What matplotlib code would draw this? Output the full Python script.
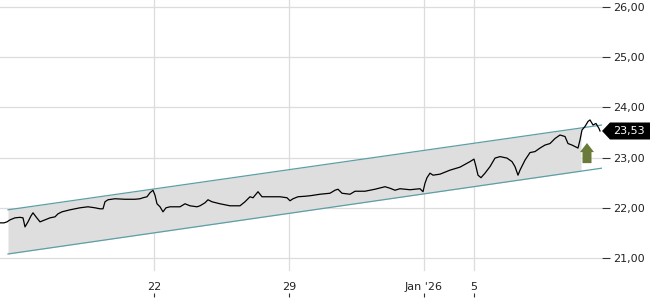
import matplotlib
matplotlib.use("Agg")
import matplotlib.pyplot as plt
from matplotlib.patches import Polygon
from matplotlib.transforms import IdentityTransform
import numpy as np

# time index (chart sample position) and price
t = [0, 4, 7, 10, 15, 20, 23, 25, 28, 31, 33, 36, 40, 45, 50, 55, 58, 62, 70, 75,
     80, 88, 95, 100, 103, 105, 108, 115, 125, 135, 140, 143, 147, 150, 153, 155,
     157, 160, 163, 166, 170, 180, 185, 190, 197, 200, 205, 208, 212, 220, 230,
     240, 245, 250, 253, 258, 262, 270, 280, 287, 290, 293, 298, 305, 310, 320,
     330, 335, 338, 342, 350, 355, 365, 375, 385, 390, 395, 400, 410, 420, 423,
     425, 427, 430, 433, 440, 450, 460, 470, 474, 476, 478, 481, 485, 490, 495,
     500, 507, 512, 515, 518, 520, 525, 530, 535, 540, 545, 550, 555, 560, 565,
     568, 572, 575, 578, 580, 582, 585, 588, 590, 593, 596, 599, 600]
price = [21.70, 21.70, 21.72, 21.76, 21.80, 21.81, 21.80, 21.62, 21.72, 21.84,
         21.90, 21.82, 21.72, 21.76, 21.80, 21.82, 21.88, 21.92, 21.96, 21.98,
         22.00, 22.02, 22.00, 21.98, 21.98, 22.12, 22.16, 22.18, 22.17, 22.17,
         22.18, 22.20, 22.22, 22.30, 22.35, 22.25, 22.08, 22.02, 21.92, 22.00,
         22.02, 22.02, 22.08, 22.04, 22.02, 22.04, 22.10, 22.16, 22.12, 22.08,
         22.04, 22.04, 22.12, 22.22, 22.20, 22.32, 22.22, 22.22, 22.22, 22.20,
         22.14, 22.18, 22.22, 22.23, 22.24, 22.27, 22.29, 22.35, 22.37, 22.29,
         22.27, 22.33, 22.33, 22.37, 22.42, 22.39, 22.35, 22.38, 22.36, 22.38,
         22.32, 22.49, 22.60, 22.69, 22.65, 22.67, 22.75, 22.81, 22.92, 22.97,
         22.82, 22.65, 22.60, 22.69, 22.82, 22.99, 23.02, 22.99, 22.92, 22.82,
         22.65, 22.75, 22.95, 23.10, 23.12, 23.19, 23.25, 23.28, 23.38, 23.45,
         23.42, 23.28, 23.25, 23.22, 23.19, 23.35, 23.55, 23.62, 23.72, 23.75,
         23.65, 23.68, 23.58, 23.53]

# trend channel (start/end)
chan_t = [8, 602]
chan_upper = [21.96, 23.65]
chan_lower = [21.08, 22.79]
fill_end_t = 581

# buy signal
signal_t = 587
signal_top, signal_neck, signal_bottom = 23.29, 23.11, 22.89

yticks = [21, 22, 23, 24, 25, 26]
ytick_labels = ["21,00", "22,00", "23,00", "24,00", "25,00", "26,00"]
xticks = [154, 289, 424, 474]
xtick_labels = ["22", "29", "Jan '26", "5"]
last_label = "23,53"

W, H = 650, 300
fig = plt.figure(figsize=(W / 100, H / 100), dpi=100)
ax_left, ax_right = 0, 602
ax_top, ax_bottom = 0, 297
ax = fig.add_axes([ax_left / W, (H - ax_bottom) / H, (ax_right - ax_left) / W,
                   (ax_bottom - ax_top) / H])
ppu = 50.2
y26 = 7
ax.set_ylim(26 - (ax_bottom - y26) / ppu, 26 + y26 / ppu)
ax.set_xlim(0, 602)
for s in ax.spines.values():
    s.set_visible(False)

grid_c = "#dcdcdc"
for v in yticks:
    ax.axhline(v, color=grid_c, lw=0.9, zorder=0)
ymin_frac = (ax_bottom - 270) / (ax_bottom - ax_top)
for v in xticks:
    ax.axvline(v, ymin=ymin_frac, color=grid_c, lw=0.9, zorder=0)

# channel fill and lines
up = np.interp([chan_t[0], fill_end_t], chan_t, chan_upper)
lo = np.interp([chan_t[0], fill_end_t], chan_t, chan_lower)
ax.fill_between([chan_t[0], fill_end_t], lo, up, color="#dedede", lw=0, zorder=1)
ax.plot(chan_t, chan_upper, color="#5c9fa6", lw=0.9, zorder=2)
ax.plot(chan_t, chan_lower, color="#5c9fa6", lw=0.9, zorder=2)

ax.plot(t, price, color="black", lw=0.9, zorder=3)

# buy arrow
hw, sw = 7, 4.5
arrow = Polygon([(signal_t, signal_top), (signal_t + hw, signal_neck),
                 (signal_t + sw, signal_neck), (signal_t + sw, signal_bottom),
                 (signal_t - sw, signal_bottom), (signal_t - sw, signal_neck),
                 (signal_t - hw, signal_neck)], closed=True,
                facecolor="#6a7a3b", edgecolor="none", zorder=4)
ax.add_patch(arrow)

# y ticks on right
ax.yaxis.tick_right()
ax.set_yticks(yticks)
ax.set_yticklabels(ytick_labels)
ax.tick_params(axis="y", length=5.5, width=0.8, color="#333333", pad=2.5,
               labelsize=8, labelcolor="#222222")
ax.set_xticks(xticks)
ax.set_xticklabels([])
ax.tick_params(axis="x", direction="in", length=3, width=0.8, color="#333333")
for v, lab in zip(xticks, xtick_labels):
    ax.text(v, 1 - 287 / ax_bottom, lab, transform=ax.get_xaxis_transform(),
            ha="center", va="center", fontsize=8, color="#222222")

# last price label
fig.canvas.draw()
yd = ax.transData.transform((0, price[-1]))[1]
tip_x = 602
pts = [(tip_x, yd), (tip_x + 8, yd + 8.5), (W, yd + 8.5), (W, yd - 8.5),
       (tip_x + 8, yd - 8.5)]
fig.patches.append(Polygon(pts, closed=True, transform=IdentityTransform(),
                           facecolor="black", edgecolor="none", figure=fig))
fig.text((tip_x + 11) / W, yd / H, last_label, color="white", fontsize=8,
         ha="left", va="center")

fig.savefig("out.png", dpi=100)
